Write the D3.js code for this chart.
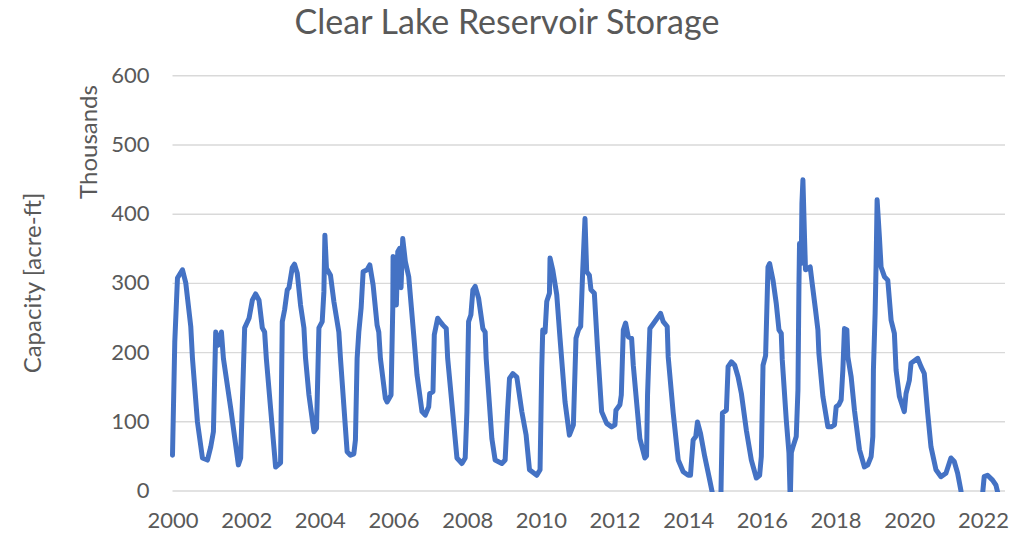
<!DOCTYPE html>
<html><head><meta charset="utf-8">
<script src="https://cdn.jsdelivr.net/npm/d3@7"></script>
<style>
body{margin:0;background:#fff}
svg{display:block}
text{font-family:Lato,"Open Sans",sans-serif;fill:#595959}
</style>
</head><body>
<svg id="chart" width="1009" height="536"></svg>
<script>
const chartTitle = "Clear Lake Reservoir Storage";
const yAxisTitle = "Capacity [acre-ft]";
const unitTitle = "Thousands";
const xTicks = [2000,2002,2004,2006,2008,2010,2012,2014,2016,2018,2020,2022];
const yTicks = [0,100,200,300,400,500,600];

// decimal years
const years = [
2000.000,2000.062,2000.135,2000.271,2000.360,2000.496,2000.542,2000.677,2000.813,2000.948,
2001.038,2001.111,2001.173,2001.238,2001.328,2001.382,2001.580,2001.788,2001.850,2001.959,
2002.078,2002.167,2002.257,2002.349,2002.438,2002.501,2002.547,2002.799,2002.934,2002.980,
2003.043,2003.116,2003.162,2003.251,2003.313,2003.387,2003.476,2003.568,2003.612,2003.704,
2003.839,2003.910,2003.975,2004.064,2004.110,2004.137,2004.180,2004.289,2004.381,2004.516,
2004.560,2004.741,2004.831,2004.923,2004.966,2005.012,2005.058,2005.121,2005.175,2005.283,
2005.356,2005.446,2005.554,2005.600,2005.644,2005.779,2005.825,2005.933,2005.980,2005.988,
2006.050,2006.077,2006.115,2006.169,2006.204,2006.250,2006.321,2006.413,2006.548,2006.638,
2006.773,2006.862,2006.955,2006.982,2007.071,2007.107,2007.199,2007.269,2007.342,2007.432,
2007.470,2007.722,2007.857,2007.946,2007.992,2008.038,2008.101,2008.155,2008.217,2008.309,
2008.426,2008.488,2008.515,2008.670,2008.759,2008.941,2009.030,2009.095,2009.149,2009.239,
2009.347,2009.483,2009.600,2009.691,2009.889,2009.978,2010.024,2010.051,2010.114,2010.160,
2010.233,2010.249,2010.322,2010.431,2010.520,2010.656,2010.775,2010.883,2010.954,2011.019,
2011.081,2011.135,2011.198,2011.244,2011.317,2011.360,2011.452,2011.533,2011.650,2011.786,
2011.921,2012.011,2012.038,2012.146,2012.184,2012.238,2012.300,2012.373,2012.463,2012.509,
2012.688,2012.823,2012.869,2012.896,2012.959,2013.067,2013.186,2013.249,2013.322,2013.430,
2013.457,2013.593,2013.729,2013.864,2013.999,2014.062,2014.089,2014.134,2014.205,2014.251,
2014.332,2014.449,2014.584,2014.657,2014.750,2014.880,2014.929,2015.037,2015.083,2015.172,
2015.262,2015.354,2015.444,2015.579,2015.714,2015.850,2015.939,2015.985,2016.031,2016.101,
2016.166,2016.210,2016.302,2016.391,2016.464,2016.526,2016.553,2016.662,2016.735,2016.770,
2016.800,2016.844,2016.933,2016.979,2017.006,2017.022,2017.068,2017.087,2017.114,2017.157,
2017.184,2017.250,2017.312,2017.366,2017.456,2017.521,2017.548,2017.656,2017.792,2017.881,
2017.971,2018.017,2018.090,2018.152,2018.198,2018.242,2018.307,2018.334,2018.424,2018.513,
2018.649,2018.784,2018.876,2018.966,2019.012,2019.028,2019.074,2019.101,2019.128,2019.190,
2019.236,2019.282,2019.327,2019.418,2019.508,2019.597,2019.643,2019.733,2019.867,2019.913,
2020.003,2020.049,2020.230,2020.320,2020.409,2020.501,2020.591,2020.726,2020.862,2020.997,
2021.132,2021.222,2021.314,2021.403,2021.500,2021.930,2022.035,2022.127,2022.262,2022.352,
2022.398
];

// storage, thousand acre-ft
const storage = [
51,215,307,319,300,237,191,99,47,44,
63,85,229,210,229,191,119,37,47,235,
249,275,284,275,235,229,191,34,40,244,
261,290,293,322,327,314,268,235,191,138,
85,90,235,244,287,369,321,311,273,229,
191,56,51,53,73,191,229,264,316,319,
326,297,239,229,191,133,128,138,264,338,
336,268,345,350,293,364,331,309,225,167,
114,109,121,140,143,225,249,244,239,234,
191,47,39,47,114,244,254,290,295,278,
234,229,191,75,44,39,44,114,162,169,
164,114,80,30,22,30,177,232,229,273,
285,336,319,283,220,128,80,95,220,232,
237,316,393,316,311,290,285,210,114,97,
92,95,116,124,138,232,242,222,220,181,
75,47,50,138,234,242,251,256,244,237,
193,112,44,27,22,22,42,73,78,99,
83,49,15,-4,-30,-30,112,116,179,186,
181,164,140,87,44,18,22,49,181,195,
323,328,304,270,232,227,189,102,54,-15,
55,63,78,145,295,357,328,415,449,367,
319,321,323,299,261,232,198,136,92,92,
95,121,124,131,174,234,232,193,164,116,
59,34,37,49,78,174,256,328,420,367,
323,316,309,304,246,227,174,136,114,140,
159,184,191,179,169,112,63,30,20,25,
47,42,25,0,-40,-40,20,22,15,8,
-2
];

const series = years.map((t,i)=>({t, v: storage[i]}));

const svg = d3.select("#chart");
const pLeft = 172.5, pRight = 1005, pTop = 75.3, pBottom = 490.5;
const x = d3.scaleLinear().domain([2000, 2022.6]).range([pLeft, pRight]);
const y = d3.scaleLinear().domain([0, 600]).range([pBottom, pTop]);

// title
svg.append("text").attr("x", 507).attr("y", 34).attr("text-anchor","middle")
  .style("font-size","34px").text(chartTitle);

// y axis + gridlines
const gy = svg.append("g").attr("transform",`translate(${pLeft},0)`)
  .call(d3.axisLeft(y).tickValues(yTicks).tickSize(-(pRight-pLeft)).tickPadding(23));
gy.select(".domain").remove();
gy.selectAll(".tick line").attr("stroke","#d9d9d9").attr("stroke-width",1.4);
gy.selectAll(".tick text").style("font-size","22px").attr("fill","#595959");

// x axis
const gx = svg.append("g").attr("transform",`translate(0,${pBottom})`)
  .call(d3.axisBottom(x).tickValues(xTicks).tickFormat(d3.format("d")).tickSize(0).tickPadding(22));
gx.select(".domain").remove();
gx.selectAll(".tick text").style("font-size","22px").attr("fill","#595959");

// axis titles
svg.append("text").attr("transform","translate(41,283) rotate(-90)")
  .attr("text-anchor","middle").style("font-size","24px").text(yAxisTitle);
svg.append("text").attr("transform","translate(97,142) rotate(-90)")
  .attr("text-anchor","middle").style("font-size","24px").text(unitTitle);

// clip
svg.append("clipPath").attr("id","plotclip").append("rect")
  .attr("x", pLeft-5).attr("y", pTop-10).attr("width", pRight-pLeft+10).attr("height", pBottom-pTop+11.5);

const line = d3.line().x(d=>x(d.t)).y(d=>y(d.v));
svg.append("path").datum(series)
  .attr("clip-path","url(#plotclip)")
  .attr("fill","none").attr("stroke","#4472C4").attr("stroke-width",5)
  .attr("stroke-linejoin","round").attr("stroke-linecap","round")
  .attr("d", line);
</script>
</body></html>
